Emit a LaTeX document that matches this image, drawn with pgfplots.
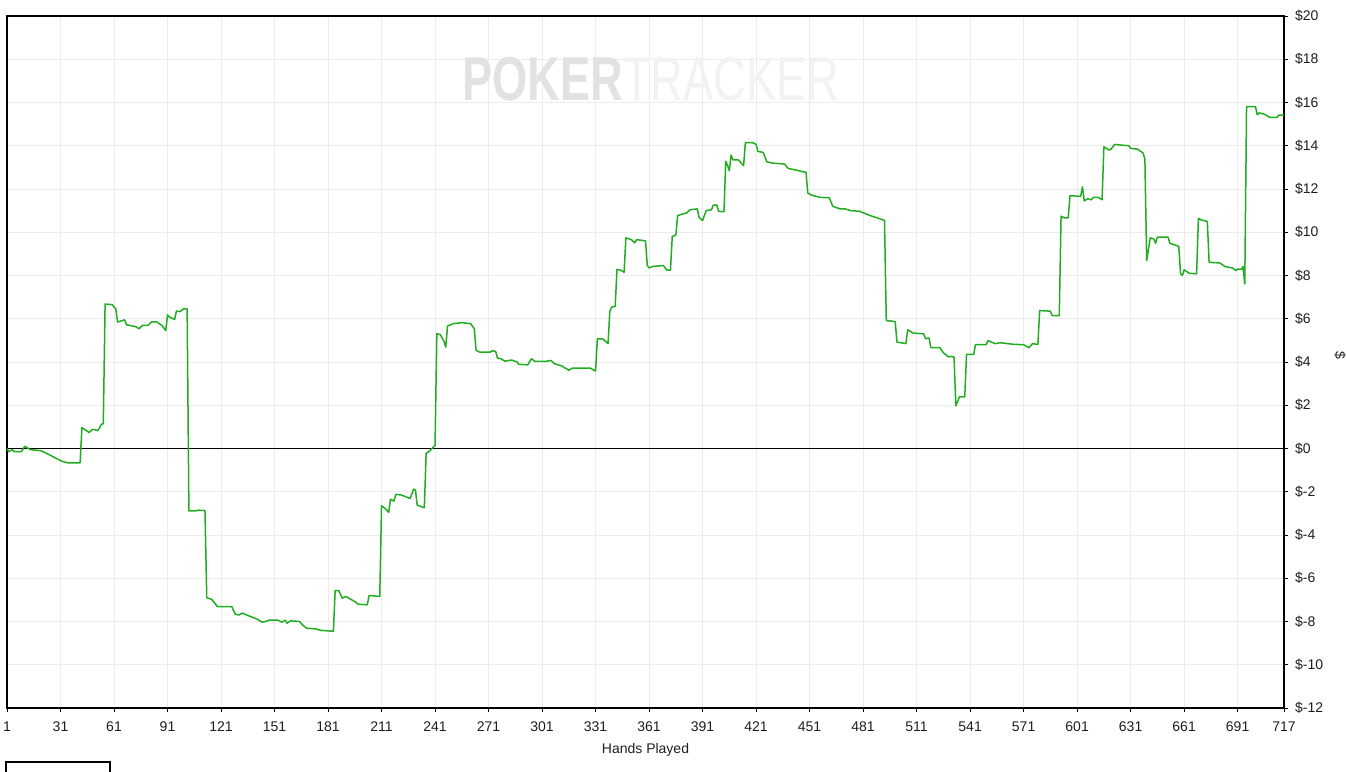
\documentclass[border=0pt]{standalone}
\usepackage{pgfplots}
\pgfplotsset{compat=1.18}
\usepackage{fontspec}
\setmainfont{Liberation Sans}
\definecolor{linegreen}{RGB}{34,172,34}
\definecolor{gridgray}{RGB}{236,236,236}
\definecolor{wmdark}{RGB}{226,226,226}
\definecolor{wmlight}{RGB}{242,242,242}
\definecolor{txt}{RGB}{30,30,30}
\begin{document}
\begin{tikzpicture}
\begin{axis}[
  name=ax,
  scale only axis,
  width=638.5pt, height=346pt,
  xmin=1, xmax=717, ymin=-12, ymax=20,
  axis line style={black, line width=0.6pt},
  xtick={1,31,61,91,121,151,181,211,241,271,301,331,361,391,421,451,481,511,541,571,601,631,661,691,717},
  xticklabels={1,31,61,91,121,151,181,211,241,271,301,331,361,391,421,451,481,511,541,571,601,631,661,691,717},
  ytick={-12,-10,-8,-6,-4,-2,0,2,4,6,8,10,12,14,16,18,20},
  yticklabels={\$-12,\$-10,\$-8,\$-6,\$-4,\$-2,\$0,\$2,\$4,\$6,\$8,\$10,\$12,\$14,\$16,\$18,\$20},
  xtick pos=left, ytick pos=right, yticklabel pos=right,
  tick align=outside, major tick length=2pt,
  tick style={black, line width=0.5pt},
  grid=major,
  major grid style={gridgray, line width=0.5pt},
  ticklabel style={font=\fontsize{7}{8}\selectfont, text=txt},
  xticklabel style={yshift=-1.5pt},
  xlabel={Hands Played},
  xlabel style={font=\fontsize{7}{8}\selectfont, text=txt, at={(axis description cs:0.5,0)}, anchor=center, yshift=-21pt},
  clip=false,
]
\node[anchor=center, xscale=0.73, inner sep=0] at (axis cs:362,17.1)
  {\fontsize{31}{31}\selectfont\textcolor{wmdark}{\bfseries POKER}\textcolor{wmlight}{TRACKER}};
\addplot[black, line width=0.6pt, forget plot] coordinates {(1,0) (717,0)};
\addplot[linegreen, line width=0.75pt, line join=round] coordinates {
(1,0.0) (2,-0.15) (4,-0.05) (5,-0.15) (9,-0.15) (11,0.1) (14,-0.05) (20,-0.1) (25,-0.3) (32,-0.6) (35,-0.66) (42,-0.66)
(43,0.97) (45,0.86) (47,0.74) (49,0.89) (52,0.83) (54,1.12) (55,1.15)
(56,6.68) (60,6.65) (62,6.46) (63,5.85) (65,5.9) (67,5.95) (68,5.72) (73,5.64) (75,5.54) (77,5.69) (80,5.69) (82,5.85) (85,5.85) (88,5.68) (90,5.45) (91,6.18) (92,6.08) (95,5.97) (96,6.36) (98,6.33) (100,6.46) (102,6.46)
(103,-2.89) (107,-2.89) (108,-2.85) (112,-2.87)
(113,-6.9) (115,-6.95) (116,-7.0) (119,-7.31) (127,-7.31) (129,-7.66) (131,-7.7) (133,-7.61) (136,-7.72) (141,-7.88) (144,-8.03) (146,-8.0) (148,-7.94) (153,-7.94) (155,-8.03) (157,-7.94) (158,-8.08) (160,-7.97) (165,-8.0) (167,-8.18) (169,-8.31) (174,-8.34) (177,-8.41) (184,-8.45)
(185,-6.57) (187,-6.57) (189,-6.92) (191,-6.84) (196,-7.08) (198,-7.2) (203,-7.23) (204,-6.8) (210,-6.84)
(211,-2.65) (213,-2.77) (215,-2.95) (216,-2.35) (218,-2.43) (219,-2.12) (222,-2.15) (227,-2.31) (229,-1.88) (230,-1.92) (231,-2.62) (235,-2.74)
(236,-0.23) (238,-0.11) (240,0.06) (241,0.15)
(242,5.31) (244,5.26) (246,4.95) (247,4.69) (248,5.66) (251,5.77) (256,5.82) (261,5.77) (263,5.54) (264,4.54) (266,4.46) (272,4.46) (273,4.52) (275,4.49) (276,4.18) (278,4.15) (280,4.04) (284,4.09) (287,4.0) (288,3.89) (293,3.87) (295,4.15) (297,4.03) (303,4.03) (306,4.07) (308,3.92) (312,3.82) (316,3.62) (318,3.72) (328,3.72) (331,3.58)
(332,5.07) (335,5.07) (338,4.85) (339,6.34) (340,6.54) (342,6.57) (343,8.28) (345,8.25) (347,8.15) (348,9.74) (351,9.66) (353,9.51) (354,9.66) (359,9.6) (360,8.46) (361,8.35) (363,8.42) (369,8.46) (371,8.25) (373,8.25)
(374,9.81) (376,9.86) (377,10.77) (380,10.85) (382,10.89) (384,11.04) (388,11.08) (389,10.7) (391,10.54) (393,11.0) (396,11.04) (397,11.26) (399,11.26) (400,10.97) (403,10.95)
(404,13.28) (405,13.1) (406,12.84) (407,13.57) (408,13.35) (411,13.35) (414,13.08) (415,14.15) (419,14.14) (421,14.07) (422,13.74) (425,13.69) (427,13.26) (430,13.2) (437,13.15) (439,12.95) (442,12.9) (449,12.77)
(450,11.81) (452,11.72) (457,11.61) (462,11.6) (464,11.2) (468,11.08) (471,11.08) (474,11.0) (479,10.97) (485,10.77) (492,10.58) (493,10.54)
(494,5.92) (499,5.87) (500,4.92) (505,4.85) (506,5.49) (509,5.34) (515,5.3) (516,5.08) (518,5.11) (519,4.66) (524,4.66) (526,4.43) (529,4.23) (530,4.26) (532,4.23)
(533,1.97) (535,2.39) (538,2.39) (539,4.35) (543,4.35) (544,4.8) (550,4.8) (551,4.99) (555,4.85) (558,4.89) (565,4.82) (571,4.8) (574,4.66) (576,4.85) (579,4.81)
(580,6.38) (586,6.35) (587,6.15) (591,6.15) (592,10.74) (594,10.66) (596,10.66) (597,11.69) (603,11.66) (604,12.1) (605,11.45) (607,11.55) (609,11.5) (610,11.61) (613,11.61) (615,11.5)
(616,13.95) (619,13.8) (620,13.84) (622,14.06) (630,14.0) (631,13.88) (635,13.84) (638,13.66) (639,13.38)
(640,8.69) (642,9.74) (644,9.69) (645,9.49) (646,9.77) (652,9.77) (653,9.49) (658,9.35) (659,8.08) (660,8.0) (661,8.26) (664,8.1) (668,8.08)
(669,10.64) (671,10.56) (674,10.5) (675,8.61) (681,8.58) (684,8.41) (688,8.35) (690,8.23) (691,8.3) (693,8.28) (694,8.41) (695,7.61)
(696,15.81) (701,15.81) (702,15.43) (703,15.52) (706,15.46) (709,15.31) (713,15.31) (714,15.41) (717,15.43)
};
\end{axis}
\node[rotate=-90, font=\fontsize{7}{8}\selectfont, text=txt, inner sep=0] at ([xshift=28pt,yshift=3.5pt]ax.east) {\$};
\draw[black, line width=0.6pt] ([xshift=-0.5pt,yshift=-27pt]ax.south west) rectangle ([xshift=51.5pt,yshift=-45pt]ax.south west);
\pgfresetboundingbox
\path[use as bounding box] ([xshift=-3.5pt,yshift=-31.5pt]ax.south west) rectangle ([xshift=31.5pt,yshift=8pt]ax.north east);
\end{tikzpicture}
\end{document}
